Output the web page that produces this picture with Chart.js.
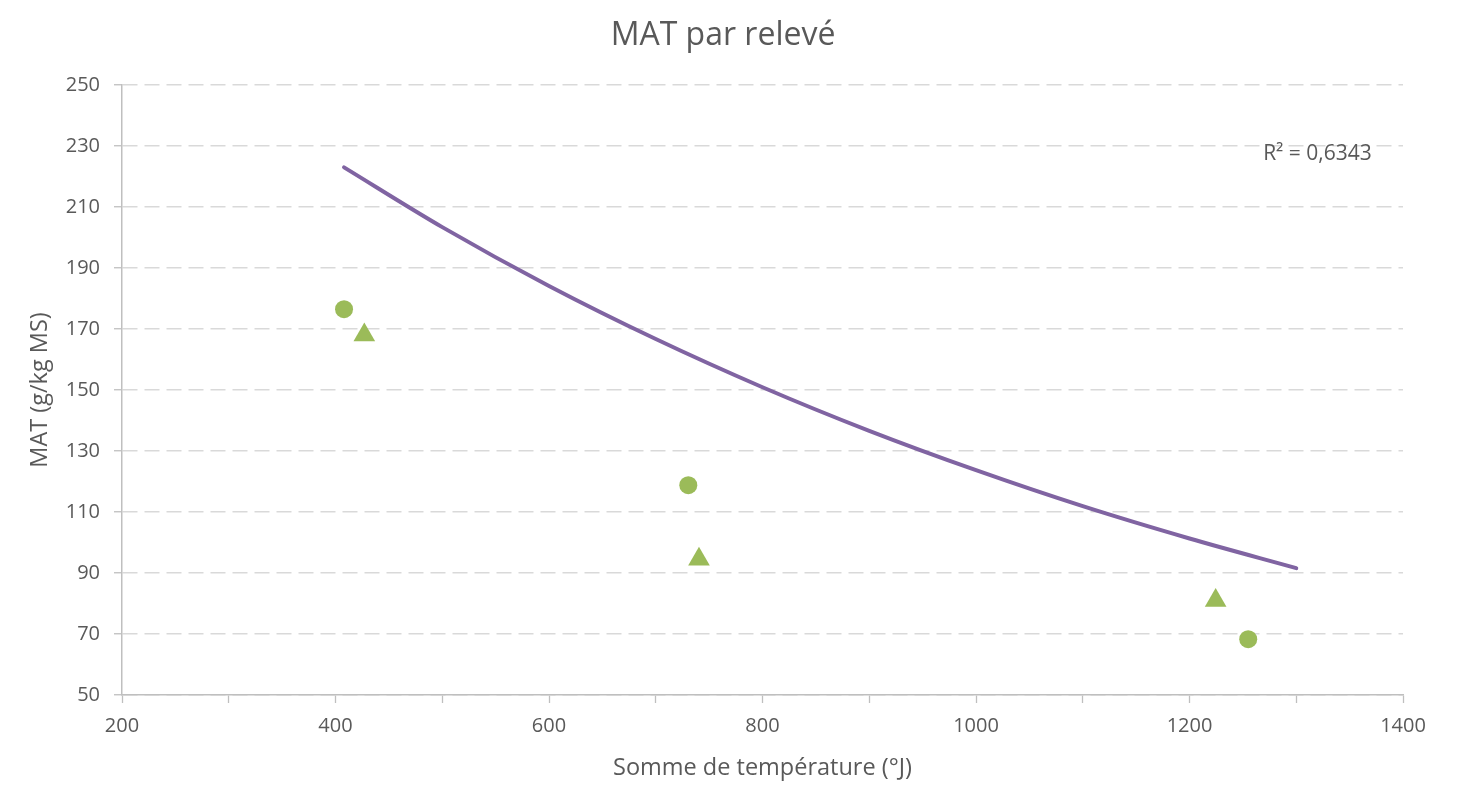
<!DOCTYPE html>
<html>
<head>
<meta charset="utf-8">
<script src="https://cdn.jsdelivr.net/npm/chart.js@4/dist/chart.umd.min.js"></script>
<style>
  html, body { margin: 0; padding: 0; background: #ffffff; }
  #wrap { width: 1468px; height: 785px; position: relative; }
</style>
</head>
<body>
<div id="wrap"><canvas id="c" width="1468" height="785"></canvas></div>
<script>
// ---- Data ----
const circleX = [408, 730.5, 1255];
const circleY = [176.5, 118.8, 68.3];
const triangleX = [427, 740.5, 1224.5];
const triangleY = [168, 94.5, 81];
// Trend curve (exponential trendline) read at several x positions
const trendX = [408, 500, 600, 700, 800, 900, 1000, 1100, 1200, 1300];
const trendY = [223, 203.4, 184.1, 166.7, 150.9, 136.6, 123.7, 111.9, 101.3, 91.6];
const r2Label = 'R² = 0,6343';
const r2Pos = { x: 1269, y: 227.4 };
const titleText = 'MAT par relevé';
const xTitle = 'Somme de température (°J)';
const yTitle = 'MAT (g/kg MS)';

const FONT = "'Open Sans', 'DejaVu Sans', sans-serif";
const TXT = '#595959';
const GREEN = '#9BBB59';
const PURPLE = '#8064A2';

const toPts = (xs, ys) => xs.map((x, i) => ({ x: x, y: ys[i] }));

const textPlugin = {
  id: 'texts',
  afterDatasetsDraw(chart) {
    const { ctx, scales } = chart;
    const px = scales.x.getPixelForValue(r2Pos.x);
    const py = scales.y.getPixelForValue(r2Pos.y);
    ctx.save();
    ctx.font = "21px " + FONT;
    ctx.fillStyle = TXT;
    ctx.textAlign = 'left';
    ctx.textBaseline = 'middle';
    ctx.fillText(r2Label, px, py);
    // chart title
    ctx.font = "32px " + FONT;
    ctx.textAlign = 'center';
    ctx.textBaseline = 'alphabetic';
    ctx.fillText(titleText, 723, 45);
    ctx.restore();
  }
};

new Chart(document.getElementById('c'), {
  type: 'scatter',
  data: {
    datasets: [
      {
        label: 'trend',
        type: 'line',
        data: toPts(trendX, trendY),
        borderColor: PURPLE,
        borderWidth: 4,
        borderCapStyle: 'round',
        pointRadius: 0,
        fill: false,
        cubicInterpolationMode: 'monotone',
        order: 3
      },
      {
        label: 'ronds',
        data: toPts(circleX, circleY),
        pointStyle: 'circle',
        pointRadius: 9,
        pointHoverRadius: 9,
        backgroundColor: GREEN,
        borderColor: GREEN,
        borderWidth: 0,
        order: 1
      },
      {
        label: 'triangles',
        data: toPts(triangleX, triangleY),
        pointStyle: 'triangle',
        pointRadius: 12.5,
        pointHoverRadius: 12.5,
        backgroundColor: GREEN,
        borderColor: GREEN,
        borderWidth: 0,
        order: 2
      }
    ]
  },
  options: {
    responsive: false,
    animation: false,
    layout: { padding: { left: 0, right: 65, top: 85, bottom: 0 } },
    plugins: {
      legend: { display: false },
      tooltip: { enabled: false },
      title: { display: false }
    },
    scales: {
      x: {
        type: 'linear',
        min: 200,
        max: 1400,
        afterFit(scale) { scale.height = 90; },
        ticks: {
          stepSize: 100,
          color: TXT,
          font: { family: FONT, size: 20 },
          padding: 11,
          maxRotation: 0,
          autoSkip: false,
          callback: (v) => (v % 200 === 0 ? String(v) : '')
        },
        grid: {
          drawOnChartArea: false,
          drawTicks: true,
          tickLength: 8,
          tickColor: '#bfbfbf',
          tickWidth: 1.3
        },
        border: { display: true, color: '#bfbfbf', width: 1.5 },
        title: {
          display: true,
          text: xTitle,
          color: TXT,
          font: { family: FONT, size: 23.5 },
          padding: { top: 0, bottom: 3 }
        }
      },
      y: {
        type: 'linear',
        min: 50,
        max: 250,
        afterFit(scale) { scale.width = 122; },
        ticks: {
          stepSize: 20,
          color: TXT,
          font: { family: FONT, size: 20 },
          padding: 14
        },
        grid: {
          color: '#d9d9d9',
          lineWidth: 1.5,
          drawTicks: true,
          tickLength: 8,
          tickColor: '#bfbfbf',
          tickWidth: 1.3,
          tickBorderDash: []
        },
        border: { display: true, color: '#bfbfbf', width: 1.5, dash: [15, 7] },
        title: {
          display: true,
          text: yTitle,
          color: TXT,
          font: { family: FONT, size: 23.5 },
          padding: { top: 26, bottom: 0 }
        }
      }
    }
  },
  plugins: [textPlugin]
});
</script>
</body>
</html>
